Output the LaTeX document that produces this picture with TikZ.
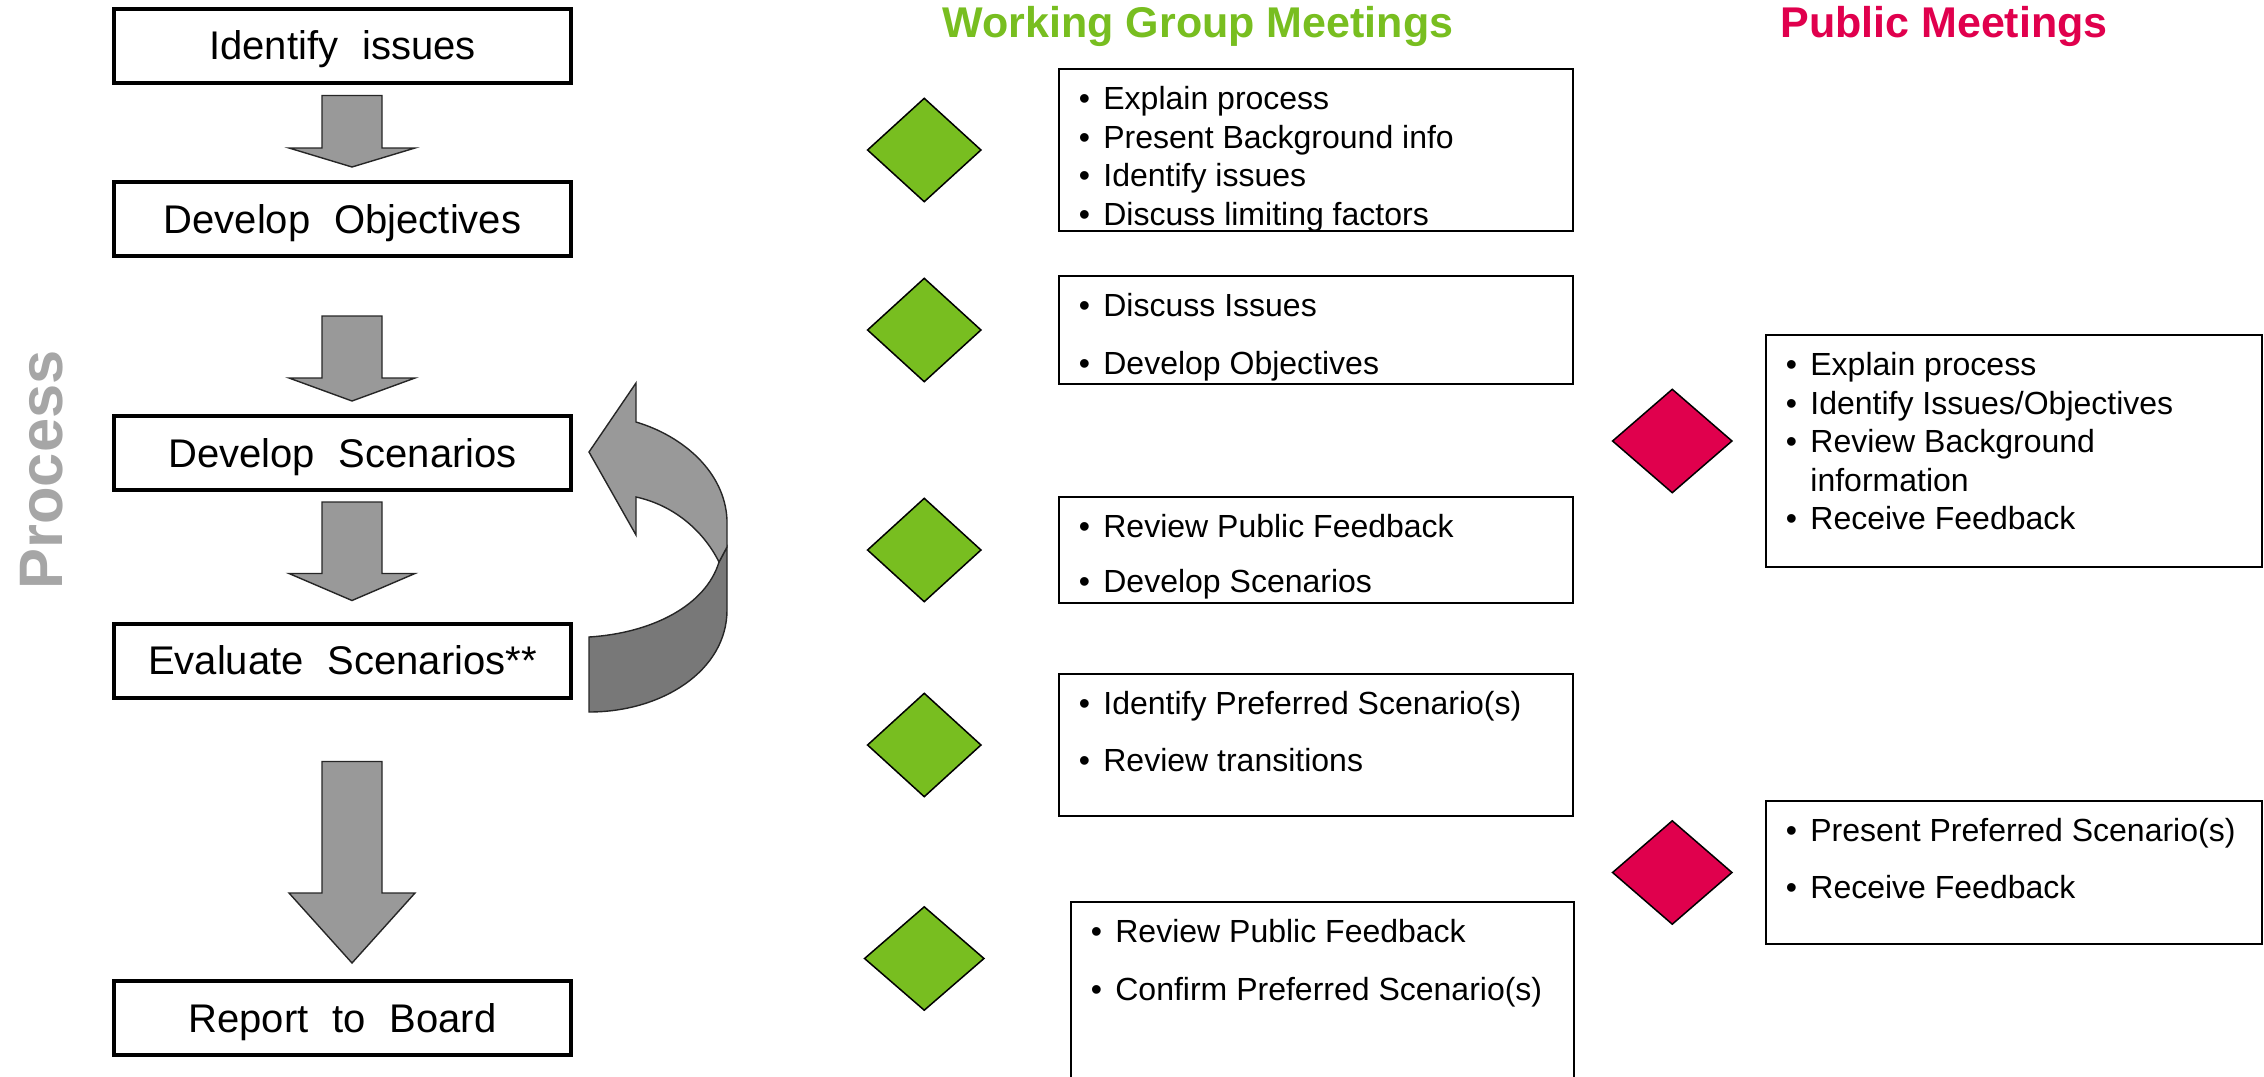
\documentclass[tikz,border=0pt]{standalone}
\usepackage{fontspec}
\setmainfont{Liberation Sans}
\usepackage{tikz}
\usetikzlibrary{calc,positioning,shapes.geometric}

\definecolor{wggreen}{HTML}{78BE20}
\definecolor{pmred}{HTML}{E0004D}
\definecolor{arrowgray}{HTML}{999999}
\definecolor{backgray}{HTML}{787878}
\definecolor{labelgray}{HTML}{A6A6A6}

\newcommand{\stepfont}{\fontsize{20}{24}\selectfont\spaceskip=0.6em\relax}
\newcommand{\listfont}{\fontsize{16}{19.3}\selectfont}
\newcommand{\headfont}{\bfseries\fontsize{21.5}{26}\selectfont}
\newcommand{\itm}[1]{\makebox[12.3pt][l]{\textbullet}#1}
% block arrow between two step boxes: from, to, gap above, head length, gap below
\newcommand{\blockdown}[5]{%
  \filldraw[blockarrow] let \p1=(#1.south), \p2=(#2.north) in
    (\x1-10.25pt,\y1-#3) -- (\x1+19.75pt,\y1-#3)
    -- (\x1+19.75pt,\y2+#5+#4) -- (\x1+36.25pt,\y2+#5+#4)
    -- (\x1+4.75pt,\y2+#5) -- (\x1-26.75pt,\y2+#5+#4)
    -- (\x1-10.25pt,\y2+#5+#4) -- cycle;}

\begin{document}
\begin{tikzpicture}[x=0.5pt, y=-0.5pt,
    stepbox/.style={draw, line width=2pt, minimum width=228.5pt, minimum height=37pt,
      inner sep=0pt, text height=14.3pt, text depth=0pt, font=\stepfont},
    listbox/.style={draw, line width=1pt, anchor=north west, inner sep=0pt},
    listtext/.style={anchor=north west, xshift=10.2pt, yshift=-9pt, inner sep=0pt,
      align=left, font=\listfont},
    wgmark/.style={diamond, draw, line width=0.75pt, fill=wggreen, inner sep=0pt,
      minimum width=57pt, minimum height=52pt},
    pmmark/.style={diamond, draw, line width=0.75pt, fill=pmred, inner sep=0pt,
      minimum width=60pt, minimum height=52pt},
    heading/.style={anchor=base, font=\headfont},
    blockarrow/.style={fill=arrowgray, draw=black!85, line width=0.7pt}]

  \useasboundingbox (0,0) rectangle (2264,1076);
  \clip (0,0) rectangle (2264,1076);

  % headings
  \node[heading, text=wggreen] (wgtitle) at (1198,38) {Working Group Meetings};
  \node[heading, text=pmred]   (pmtitle) at (1944,38) {Public Meetings};
  \node[rotate=90, anchor=base, text=labelgray,
        font=\bfseries\fontsize{30.7}{36}\selectfont] (process) at (62,470) {Process};

  % process steps
  \node[stepbox] (b1) at (342.5,45.5) {Identify issues};
  \node[stepbox] (b2) at (342.5,219)  {Develop Objectives};
  \node[stepbox] (b3) at (342.5,453)  {Develop Scenarios};
  \node[stepbox] (b4) at (342.5,660.5){Evaluate Scenarios**};
  \node[stepbox] (b5) at (342.5,1018) {Report to Board};

  \blockdown{b1}{b2}{5.5pt}{9.5pt}{6.5pt}
  \blockdown{b2}{b3}{29pt}{11.5pt}{6.5pt}
  \blockdown{b3}{b4}{5pt}{13.5pt}{10.5pt}
  \blockdown{b4}{b5}{31pt}{35pt}{8pt}

  % loop back from evaluate to develop
  \begin{scope}[shift={(b3.east)}]
    \filldraw[blockarrow, fill=backgray] (16,184) .. controls (80,180) and (133,152) .. (146,109)
      -- (154,94) -- (154,157) .. controls (154,217) and (90,259) .. (16,259) -- cycle;
    \filldraw[blockarrow] (63,-31) .. controls (110,-17) and (152,19) .. (154,67)
      -- (154,94) -- (146,109) .. controls (130,77) and (100,52) .. (63,44)
      -- (63,82) -- (16,-1) -- (63,-70) -- cycle;
  \end{scope}

  % working group meetings
  \node[listbox, minimum width=257pt, minimum height=81pt]    (wg1) at (1058,68)  {};
  \node[listbox, minimum width=257pt, minimum height=54pt]    (wg2) at (1058,275) {};
  \node[listbox, minimum width=257pt, minimum height=53pt]    (wg3) at (1058,496) {};
  \node[listbox, minimum width=257pt, minimum height=71pt]    (wg4) at (1058,673) {};
  \node[listbox, minimum width=251.5pt, minimum height=110pt] (wg5) at (1070,901) {};

  \node[wgmark, left=38pt of wg1] (g1) {};
  \node[wgmark, left=38pt of wg2] (g2) {};
  \node[wgmark, left=38pt of wg3] (g3) {};
  \node[wgmark, left=38pt of wg4] (g4) {};
  \node[wgmark, minimum width=60pt, below=54pt of g4] (g5) {};

  \node[listtext] (wg1text) at (wg1.north west)
    {\itm{Explain process}\\\itm{Present Background info}\\\itm{Identify issues}\\\itm{Discuss limiting factors}};
  \node[listtext] (wg2text) at (wg2.north west)
    {\itm{Discuss Issues}\\[9.5pt]\itm{Develop Objectives}};
  \node[listtext] (wg3text) at (wg3.north west)
    {\itm{Review Public Feedback}\\[8.2pt]\itm{Develop Scenarios}};
  \node[listtext] (wg4text) at (wg4.north west)
    {\itm{Identify Preferred Scenario(s)}\\[9.2pt]\itm{Review transitions}};
  \node[listtext] (wg5text) at (wg5.north west)
    {\itm{Review Public Feedback}\\[9.5pt]\itm{Confirm Preferred Scenario(s)}};

  % public meetings
  \node[listbox, minimum width=248pt, minimum height=116pt]  (pm1) at (1765,334) {};
  \node[listbox, minimum width=248pt, minimum height=71.5pt] (pm2) at (1765,800) {};

  \node[pmmark, left=16pt of pm1, yshift=5pt] (r1) {};
  \node[pmmark, left=16pt of pm2] (r2) {};

  \node[listtext] (pm1text) at (pm1.north west)
    {\itm{Explain process}\\\itm{Identify Issues/Objectives}\\\itm{Review Background}\\
     \hspace*{12.3pt}information\\\itm{Receive Feedback}};
  \node[listtext] (pm2text) at (pm2.north west)
    {\itm{Present Preferred Scenario(s)}\\[9.2pt]\itm{Receive Feedback}};
\end{tikzpicture}
\end{document}
